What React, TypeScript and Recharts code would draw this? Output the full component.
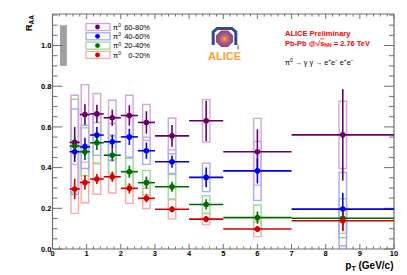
import React from 'react';
import {
  ComposedChart,
  Scatter,
  XAxis,
  YAxis,
  ErrorBar,
  ReferenceArea,
  ReferenceLine,
  Customized,
} from 'recharts';

const FONT = '"Liberation Sans", Arial, Helvetica, sans-serif';
const FRAME = '#6e6e6e';

// pT bin centres and half widths (GeV/c)
const ptCenters = [0.65, 0.95, 1.3, 1.75, 2.25, 2.75, 3.5, 4.5, 6, 8.5];
const ptHalfWidths = [0.15, 0.15, 0.2, 0.25, 0.25, 0.25, 0.5, 0.5, 1, 1.5];

// 60-80%
const raa6080 = [0.524, 0.661, 0.664, 0.645, 0.656, 0.622, 0.556, 0.63, 0.478, 0.561];
const stat6080 = [0.075, 0.05, 0.045, 0.04, 0.05, 0.055, 0.053, 0.099, 0.11, 0.225];
const sys6080 = [0.232, 0.147, 0.1, 0.086, 0.1, 0.088, 0.088, 0.104, 0.164, 0.165];

// 40-60%
const raa4060 = [0.478, 0.502, 0.56, 0.527, 0.551, 0.483, 0.429, 0.352, 0.384, 0.196];
const stat4060 = [0.05, 0.045, 0.04, 0.035, 0.04, 0.04, 0.03, 0.049, 0.062, 0.08];
const sys4060 = [0.21, 0.106, 0.1, 0.09, 0.1, 0.067, 0.058, 0.07, 0.145, 0.18];

// 20-40%
const raa2040 = [0.506, 0.478, 0.522, 0.461, 0.38, 0.326, 0.306, 0.219, 0.154, 0.151];
const stat2040 = [0.045, 0.04, 0.035, 0.03, 0.03, 0.03, 0.025, 0.025, 0.03, 0.06];
const sys2040 = [0.23, 0.118, 0.1, 0.09, 0.066, 0.059, 0.06, 0.043, 0.062, 0.096];

// 0-20%
const raa0020 = [0.295, 0.327, 0.344, 0.355, 0.298, 0.249, 0.195, 0.147, 0.098, 0.139];
const stat0020 = [0.05, 0.035, 0.025, 0.025, 0.025, 0.02, 0.015, 0.015, 0.015, 0.05];
const sys0020 = [0.12, 0.1, 0.075, 0.08, 0.074, 0.05, 0.047, 0.027, 0.037, 0.062];

// global normalisation uncertainty box
const normCenter = 1.0;
const normErr = 0.1;
const normX = [0.22, 0.42];

const centralityLabels = ['60-80%', '40-60%', '20-40%', '0-20%'];
const markerColors = ['#660066', '#0000e0', '#006a00', '#d40000'];
const boxColors = ['#d6a4dc', '#a8a8ff', '#98dc98', '#ffa6a6'];

const xMajorTicks = [0, 1, 2, 3, 4, 5, 6, 7, 8, 9, 10];
const yMajorTicks = [0, 0.2, 0.4, 0.6, 0.8, 1.0];
const X_MAX = 10;
const Y_MAX = 1.155;

const xMinorTicks: number[] = [];
xMajorTicks.slice(0, -1).forEach((t) => {
  [0.2, 0.4, 0.6, 0.8].forEach((f) => xMinorTicks.push(+(t + f).toFixed(2)));
});
const yMinorTicks: number[] = [];
[0, 0.2, 0.4, 0.6, 0.8, 1.0].forEach((t) => {
  [0.05, 0.1, 0.15].forEach((f) => {
    const v = +(t + f).toFixed(3);
    if (v < Y_MAX) yMinorTicks.push(v);
  });
});

const BOX_HALF = 0.11;

const series = [
  { y: raa6080, stat: stat6080, sys: sys6080 },
  { y: raa4060, stat: stat4060, sys: sys4060 },
  { y: raa2040, stat: stat2040, sys: sys2040 },
  { y: raa0020, stat: stat0020, sys: sys0020 },
].map((s, k) => ({
  ...s,
  label: centralityLabels[k],
  color: markerColors[k],
  box: boxColors[k],
  rows: ptCenters.map((x, i) => ({ x, y: s.y[i], ex: ptHalfWidths[i], ey: s.stat[i] })),
}));

// tick lengths in data units
const XT_MAJ = 0.0245;
const XT_MIN = 0.0125;
const YT_MAJ = 0.29;
const YT_MIN = 0.145;

function Overlay() {
  return (
    <g fontFamily={FONT}>
      {series.map((s, i) => {
        const cy = 27 + i * 9.3;
        return (
          <g key={s.label}>
            <rect x={86} y={cy - 3.5} width={24} height={7} fill="none" stroke={s.box} strokeWidth={1.3} />
            <circle cx={97.5} cy={cy} r={2.4} fill={s.color} />
            <text x={113} y={cy + 2.8} fontSize={7.5} fill="#000">
              π<tspan dy={-2.8} fontSize={5}>0</tspan>
            </text>
            <text x={150} y={cy + 2.8} fontSize={7.5} fill="#000" textAnchor="end">
              {s.label}
            </text>
          </g>
        );
      })}

      {/* ALICE logo */}
      <defs>
        <radialGradient id="aliceCore" cx="50%" cy="50%" r="50%">
          <stop offset="0%" stopColor="#f7b030" />
          <stop offset="45%" stopColor="#c86070" />
          <stop offset="100%" stopColor="#5a5aa8" />
        </radialGradient>
      </defs>
      <polyline
        points="213.2,45 213.2,32 217.2,28.4 231.8,28.4 235.8,32 235.8,45"
        fill="none"
        stroke="#2a4a9c"
        strokeWidth={3}
      />
      <polygon
        points="221,31 228,31 232.5,35.5 232.5,42 228,46.5 221,46.5 216.5,42 216.5,35.5"
        fill="url(#aliceCore)"
        stroke="#e8283c"
        strokeWidth={1}
      />
      <circle cx={238} cy={45.5} r={0.9} fill="#f0a030" />
      <line x1={238} y1={46.5} x2={238} y2={49.5} stroke="#2a4a9c" strokeWidth={1} />
      <text x={224.5} y={60} fontSize={11} fontWeight="bold" fill="#f7a23a" textAnchor="middle">
        ALICE
      </text>

      <text x={285} y={36} fontSize={7.5} fontWeight="bold" fill="#ff0000">
        ALICE Preliminary
      </text>
      <text x={285} y={45.5} fontSize={7.5} fontWeight="bold" fill="#ff0000">
        Pb-Pb @√<tspan textDecoration="overline">s</tspan>
        <tspan dy={1.8} fontSize={5}>NN</tspan>
        <tspan dy={-1.8}> = 2.76 TeV</tspan>
      </text>
      <text x={285} y={65} fontSize={7.2} fill="#000">
        π<tspan dy={-2.6} fontSize={4.8}>0</tspan>
        <tspan dy={2.6}> → γ γ → e</tspan>
        <tspan dy={-2.6} fontSize={4.8}>+</tspan>
        <tspan dy={2.6}>e</tspan>
        <tspan dy={-2.6} fontSize={4.8}>−</tspan>
        <tspan dy={2.6}>  e</tspan>
        <tspan dy={-2.6} fontSize={4.8}>+</tspan>
        <tspan dy={2.6}>e</tspan>
        <tspan dy={-2.6} fontSize={4.8}>−</tspan>
      </text>

      {/* axis titles */}
      <text transform="translate(31.7,15) rotate(-90)" fontSize={9.5} fontWeight="bold" textAnchor="end" fill="#000">
        R<tspan dy={2.6} fontSize={6.5}>AA</tspan>
      </text>
      <text x={393.5} y={268.5} fontSize={10} fontWeight="bold" textAnchor="end" fill="#000">
        p<tspan dy={2.8} fontSize={7}>T</tspan>
        <tspan dy={-2.8}> (GeV/c)</tspan>
      </text>
    </g>
  );
}

const dot = (color: string) => (props: any) => (
  <circle cx={props.cx} cy={props.cy} r={2.8} fill={color} />
);

const boxOrder = [3, 2, 1, 0];

export default function App() {
  return (
    <div style={{ position: 'absolute', left: 0, top: 0, width: 407, height: 275, background: '#fff' }}>
      <ComposedChart
        width={407}
        height={275}
        margin={{ top: 14, right: 13, bottom: 0, left: 0 }}
        style={{ fontFamily: FONT }}
      >
        <XAxis
          type="number"
          dataKey="x"
          domain={[0, X_MAX]}
          ticks={xMajorTicks}
          interval={0}
          allowDataOverflow
          height={26}
          tickSize={0}
          tickMargin={2}
          tickLine={false}
          axisLine={{ stroke: FRAME, strokeWidth: 1.2 }}
          tick={{ fontSize: 7.5, fill: '#000', fontFamily: FONT, fontWeight: 'bold' }}
        />
        <YAxis
          type="number"
          dataKey="y"
          domain={[0, Y_MAX]}
          ticks={yMajorTicks}
          interval={0}
          allowDataOverflow
          width={52.5}
          tickSize={0}
          tickMargin={1}
          tickLine={false}
          axisLine={{ stroke: FRAME, strokeWidth: 1.2 }}
          tickFormatter={(v: number) => v.toFixed(1)}
          tick={{ fontSize: 7.5, fill: '#000', fontFamily: FONT, fontWeight: 'bold' }}
        />

        {/* frame top / right */}
        <ReferenceLine y={Y_MAX} stroke={FRAME} strokeWidth={1.2} ifOverflow="visible" />
        <ReferenceLine x={X_MAX} stroke={FRAME} strokeWidth={1.2} ifOverflow="visible" />

        {/* inward ticks */}
        {xMajorTicks.map((t) => (
          <ReferenceLine key={'xb' + t} segment={[{ x: t, y: 0 }, { x: t, y: XT_MAJ }]} stroke={FRAME} ifOverflow="visible" />
        ))}
        {xMajorTicks.map((t) => (
          <ReferenceLine key={'xt' + t} segment={[{ x: t, y: Y_MAX }, { x: t, y: Y_MAX - XT_MAJ }]} stroke={FRAME} ifOverflow="visible" />
        ))}
        {xMinorTicks.map((t) => (
          <ReferenceLine key={'xbm' + t} segment={[{ x: t, y: 0 }, { x: t, y: XT_MIN }]} stroke={FRAME} ifOverflow="visible" />
        ))}
        {xMinorTicks.map((t) => (
          <ReferenceLine key={'xtm' + t} segment={[{ x: t, y: Y_MAX }, { x: t, y: Y_MAX - XT_MIN }]} stroke={FRAME} ifOverflow="visible" />
        ))}
        {yMajorTicks.map((t) => (
          <ReferenceLine key={'yl' + t} segment={[{ x: 0, y: t }, { x: YT_MAJ, y: t }]} stroke={FRAME} ifOverflow="visible" />
        ))}
        {yMajorTicks.map((t) => (
          <ReferenceLine key={'yr' + t} segment={[{ x: X_MAX, y: t }, { x: X_MAX - YT_MAJ, y: t }]} stroke={FRAME} ifOverflow="visible" />
        ))}
        {yMinorTicks.map((t) => (
          <ReferenceLine key={'ylm' + t} segment={[{ x: 0, y: t }, { x: YT_MIN, y: t }]} stroke={FRAME} ifOverflow="visible" />
        ))}
        {yMinorTicks.map((t) => (
          <ReferenceLine key={'yrm' + t} segment={[{ x: X_MAX, y: t }, { x: X_MAX - YT_MIN, y: t }]} stroke={FRAME} ifOverflow="visible" />
        ))}

        {/* normalisation uncertainty */}
        <ReferenceArea
          x1={normX[0]}
          x2={normX[1]}
          y1={normCenter - normErr}
          y2={normCenter + normErr}
          fill="#a0a0a0"
          fillOpacity={1}
          stroke="none"
          ifOverflow="visible"
        />

        {/* systematic boxes */}
        {boxOrder.map((k) => {
          const s = series[k];
          return ptCenters.map((x, i) => (
            <ReferenceArea
              key={s.label + 'box' + i}
              x1={x - BOX_HALF}
              x2={x + BOX_HALF}
              y1={s.y[i] - s.sys[i]}
              y2={s.y[i] + s.sys[i]}
              fill="none"
              stroke={s.box}
              strokeWidth={1.4}
              ifOverflow="hidden"
            />
          ));
        })}

        {series.map((s) => (
          <Scatter
            key={s.label}
            name={s.label}
            data={s.rows}
            fill={s.color}
            isAnimationActive={false}
            shape={dot(s.color)}
          >
            <ErrorBar dataKey="ex" direction="x" width={0} stroke={s.color} strokeWidth={1.6} isAnimationActive={false} />
            <ErrorBar dataKey="ey" direction="y" width={0} stroke={s.color} strokeWidth={1.6} isAnimationActive={false} />
          </Scatter>
        ))}

        <Customized component={Overlay} />
      </ComposedChart>
    </div>
  );
}
